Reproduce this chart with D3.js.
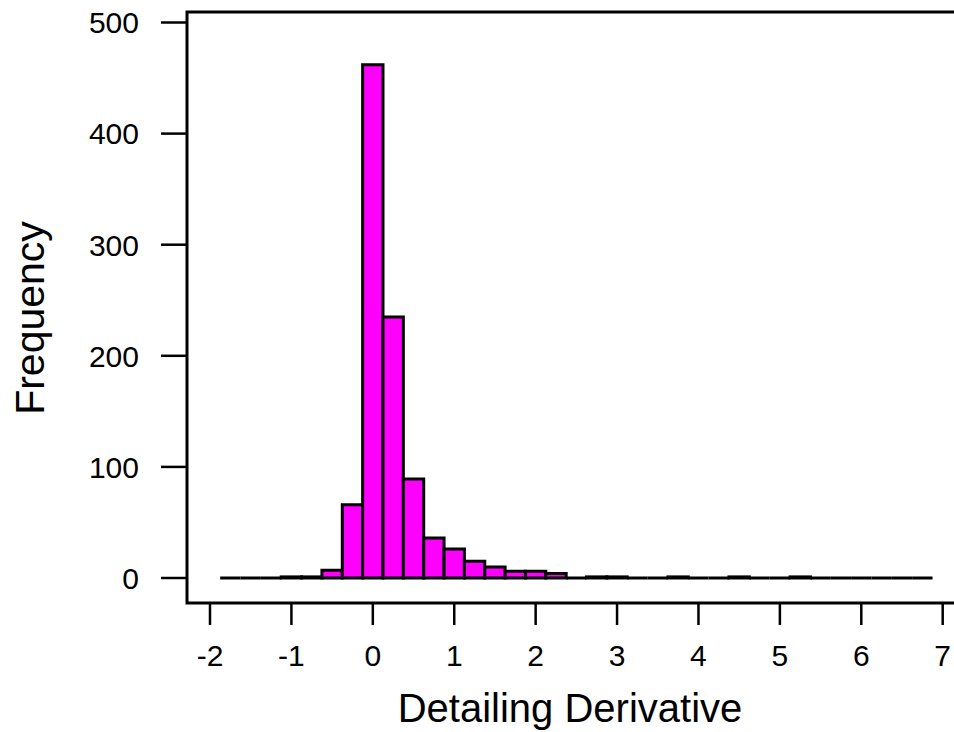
<!DOCTYPE html>
<html>
<head>
<meta charset="utf-8">
<script src="https://cdn.jsdelivr.net/npm/d3@7"></script>
<style>
  body { margin: 0; background: #fff; }
  svg { display: block; font-family: Arial, "Liberation Sans", sans-serif; }
</style>
</head>
<body>
<svg width="954" height="732"></svg>
<script>
/********** Data **********/
var binStart = -1.875, binWidth = 0.25;
var counts = [0, 0, 0, 1, 1, 7, 66, 462, 235, 89, 36, 26, 15, 10, 6, 6, 4, 0,
              1, 1, 0, 0, 1, 0, 0, 1, 0, 0, 1, 0, 0, 0, 0, 0, 0];
var xTicks = [-2, -1, 0, 1, 2, 3, 4, 5, 6, 7];
var yTicks = [0, 100, 200, 300, 400, 500];
var xTitle = "Detailing Derivative",
    yTitle = "Frequency";

var bins = counts.map(function(c, i) {
    return {x0: binStart + i * binWidth, x1: binStart + (i + 1) * binWidth, n: c};
});

/********** Chart **********/
var svg = d3.select("svg");

var x = d3.scaleLinear().domain([-2, 7]).range([210, 942.7]);
var y = d3.scaleLinear().domain([0, 500]).range([578, 22.5]);

// frame (runs off the right edge like the original)
svg.append("path")
    .attr("d", "M960,12H187V603H960")
    .attr("fill", "none")
    .attr("stroke", "#000")
    .attr("stroke-width", 3);

// bars (paths so that empty bins still show as a line)
svg.append("g")
    .selectAll("path")
    .data(bins)
    .enter().append("path")
    .attr("d", function(d) {
        return "M" + x(d.x0) + "," + y(0) + "V" + y(d.n) + "H" + x(d.x1) + "V" + y(0) + "Z";
    })
    .attr("fill", "#ff00ff")
    .attr("stroke", "#000")
    .attr("stroke-width", 3)
    .attr("stroke-linejoin", "miter");

// y axis ticks
var yAxis = svg.append("g");
yAxis.selectAll("line")
    .data(yTicks)
    .enter().append("line")
    .attr("x1", 161).attr("x2", 187)
    .attr("y1", y).attr("y2", y)
    .attr("stroke", "#000")
    .attr("stroke-width", 2.5);
yAxis.selectAll("text")
    .data(yTicks)
    .enter().append("text")
    .attr("x", 139)
    .attr("y", y)
    .attr("dy", "0.36em")
    .attr("text-anchor", "end")
    .attr("font-size", 30)
    .text(function(d) { return d; });

// x axis ticks
var xAxis = svg.append("g");
xAxis.selectAll("line")
    .data(xTicks)
    .enter().append("line")
    .attr("x1", x).attr("x2", x)
    .attr("y1", 603).attr("y2", 625)
    .attr("stroke", "#000")
    .attr("stroke-width", 2.5);
xAxis.selectAll("text")
    .data(xTicks)
    .enter().append("text")
    .attr("x", x)
    .attr("y", 666)
    .attr("text-anchor", "middle")
    .attr("font-size", 30)
    .text(function(d) { return d; });

// titles
svg.append("text")
    .attr("x", 570)
    .attr("y", 722)
    .attr("text-anchor", "middle")
    .attr("font-size", 40)
    .text(xTitle);

svg.append("text")
    .attr("transform", "translate(44,318) rotate(-90)")
    .attr("text-anchor", "middle")
    .attr("font-size", 41)
    .text(yTitle);
</script>
</body>
</html>
